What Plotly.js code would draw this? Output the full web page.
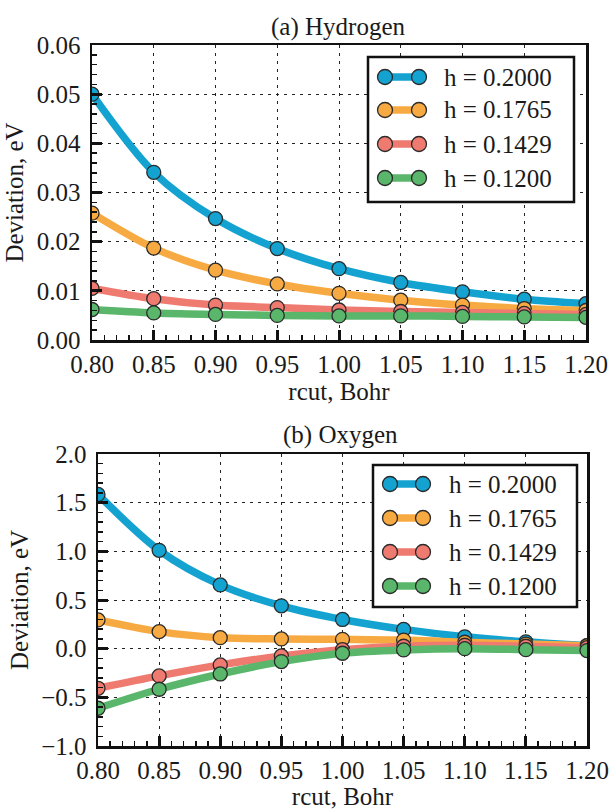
<!DOCTYPE html>
<html>
<head>
<meta charset="utf-8">
<script src="https://cdn.plot.ly/plotly-3.0.1.min.js"></script>
<style>html,body{margin:0;padding:0;background:#fff;}#chart{width:611px;height:810px;}</style>
</head>
<body>
<div id="chart"></div>
<script>
// ---- data ----
const rcut = [0.80, 0.85, 0.90, 0.95, 1.00, 1.05, 1.10, 1.15, 1.20];
const seriesNames = ["h = 0.2000", "h = 0.1765", "h = 0.1429", "h = 0.1200"];
const seriesColors = ["#14a3d0", "#f8aa42", "#ef7a70", "#59b66b"];

const hydrogen_h2000 = [0.0500, 0.0341, 0.0247, 0.0186, 0.0145, 0.0117, 0.0098, 0.0083, 0.0074];
const hydrogen_h1765 = [0.0258, 0.0187, 0.0142, 0.0114, 0.0095, 0.0081, 0.0071, 0.0064, 0.0060];
const hydrogen_h1429 = [0.0105, 0.0084, 0.0071, 0.0066, 0.0061, 0.0058, 0.0056, 0.0054, 0.0052];
const hydrogen_h1200 = [0.0062, 0.0055, 0.0052, 0.0050, 0.0049, 0.0049, 0.0048, 0.0047, 0.0046];

const oxygen_h2000 = [1.585, 1.010, 0.655, 0.440, 0.300, 0.198, 0.122, 0.070, 0.030];
const oxygen_h1765 = [0.295, 0.175, 0.113, 0.100, 0.096, 0.088, 0.066, 0.047, 0.030];
const oxygen_h1429 = [-0.407, -0.280, -0.167, -0.075, -0.010, 0.025, 0.035, 0.025, 0.010];
const oxygen_h1200 = [-0.612, -0.417, -0.260, -0.133, -0.047, -0.013, 0.000, -0.010, -0.020];

const xTickVals = [0.80, 0.85, 0.90, 0.95, 1.00, 1.05, 1.10, 1.15, 1.20];
const hTickVals = [0.00, 0.01, 0.02, 0.03, 0.04, 0.05, 0.06];
const oTickVals = [-1.0, -0.5, 0.0, 0.5, 1.0, 1.5, 2.0];

const panelTitles = ["(a) Hydrogen", "(b) Oxygen"];
const xTitle = "rcut, Bohr";
const yTitle = "Deviation, eV";

// ---- layout helpers (pixel -> paper) ----
const W = 611, H = 810;
const PX = p => p / W;
const PY = p => 1 - p / H;
const FONT = "'Liberation Serif'";
const FS = 25;
const TXT = "#1a1a1a";

const hydro = [hydrogen_h2000, hydrogen_h1765, hydrogen_h1429, hydrogen_h1200];
const oxy = [oxygen_h2000, oxygen_h1765, oxygen_h1429, oxygen_h1200];

const traces = [];
function addTraces(sets, xa, ya) {
  sets.forEach((ys, i) => {
    traces.push({
      x: rcut, y: ys, xaxis: xa, yaxis: ya, type: "scatter", mode: "lines+markers",
      name: seriesNames[i], showlegend: false,
      line: {color: seriesColors[i], width: 7.5, shape: "spline", smoothing: 0.9},
      marker: {color: seriesColors[i], size: 14, line: {color: "#2a2a2a", width: 1.3}}
    });
  });
}
addTraces(hydro, "x", "y");
addTraces(oxy, "x2", "y2");

function xAxis(domain, anchor) {
  return {
    domain: domain, anchor: anchor, range: [0.8, 1.2],
    tickmode: "array", tickvals: xTickVals, ticktext: xTickVals.map(v => v.toFixed(2)),
    ticks: "inside", ticklen: 10, tickwidth: 3, tickcolor: "#111",
    showline: true, linecolor: "#111", linewidth: 2.5, mirror: true,
    showgrid: true, gridcolor: "#222", gridwidth: 1, griddash: "3px,5px",
    zeroline: false,
    minor: {dtick: 0.01, ticks: "inside", ticklen: 5, tickwidth: 1.5, tickcolor: "#111", showgrid: false},
    tickfont: {family: FONT, size: FS, color: TXT},
    title: {text: xTitle, font: {family: FONT, size: FS, color: TXT}, standoff: 1}
  };
}
function yAxis(domain, anchor, range, tv, fmt, minorD) {
  return {
    domain: domain, anchor: anchor, range: range,
    tickmode: "array", tickvals: tv, ticktext: tv.map(v => (v < 0 ? "\u2212" : "") + Math.abs(v).toFixed(fmt)),
    ticks: "inside", ticklen: 10, tickwidth: 3, tickcolor: "#111",
    showline: true, linecolor: "#111", linewidth: 2.5, mirror: true,
    showgrid: true, gridcolor: "#222", gridwidth: 1, griddash: "3px,5px",
    zeroline: false, ticklabelstandoff: 4,
    minor: {dtick: minorD, ticks: "inside", ticklen: 5, tickwidth: 1.5, tickcolor: "#111", showgrid: false},
    tickfont: {family: FONT, size: FS, color: TXT},
    title: {text: yTitle, font: {family: FONT, size: FS, color: TXT}, standoff: 6}
  };
}

const shapes = [];
const annotations = [];

// subplot titles
annotations.push({text: panelTitles[0], x: PX(338), y: PY(27), xref: "paper", yref: "paper",
  xanchor: "center", yanchor: "middle", showarrow: false, font: {family: FONT, size: FS, color: TXT}});
annotations.push({text: panelTitles[1], x: PX(340), y: PY(435), xref: "paper", yref: "paper",
  xanchor: "center", yanchor: "middle", showarrow: false, font: {family: FONT, size: FS, color: TXT}});

// custom legends (matplotlib style, two markers per entry)
function legend(box, rows, m1, m2, textX) {
  shapes.push({type: "rect", xref: "paper", yref: "paper", layer: "above",
    x0: PX(box[0]), x1: PX(box[1]), y0: PY(box[3]), y1: PY(box[2]),
    fillcolor: "#ffffff", line: {color: "#111", width: 2.5}});
  rows.forEach((ry, i) => {
    shapes.push({type: "line", xref: "paper", yref: "paper", layer: "above",
      x0: PX(m1), x1: PX(m2), y0: PY(ry), y1: PY(ry), line: {color: seriesColors[i], width: 7.5}});
    [m1, m2].forEach(mx => {
      const r = 7.5;
      shapes.push({type: "circle", xref: "paper", yref: "paper", layer: "above",
        x0: PX(mx - r), x1: PX(mx + r), y0: PY(ry + r), y1: PY(ry - r),
        fillcolor: seriesColors[i], line: {color: "#2a2a2a", width: 1.3}});
    });
    annotations.push({text: seriesNames[i], x: PX(textX), y: PY(ry), xref: "paper", yref: "paper",
      xanchor: "left", yanchor: "middle", showarrow: false, font: {family: FONT, size: FS, color: TXT}});
  });
}
legend([368, 574, 57, 202], [77, 110, 144, 178], 385, 419, 442);
legend([373, 577, 465, 607], [484, 518, 552, 586], 390, 423, 447);

const layout = {
  width: W, height: H,
  margin: {l: 0, r: 0, t: 0, b: 0},
  paper_bgcolor: "#ffffff", plot_bgcolor: "#ffffff",
  showlegend: false,
  font: {family: FONT, size: FS, color: TXT},
  xaxis: xAxis([PX(92), PX(586)], "y"),
  yaxis: yAxis([PY(340), PY(45)], "x", [0, 0.06], hTickVals, 2, 0.002),
  xaxis2: xAxis([PX(98), PX(587)], "y2"),
  yaxis2: yAxis([PY(746), PY(454)], "x2", [-1.0, 2.0], oTickVals, 1, 0.1),
  shapes: shapes,
  annotations: annotations
};

Plotly.newPlot("chart", traces, layout, {displayModeBar: false, staticPlot: true});
</script>
</body>
</html>
